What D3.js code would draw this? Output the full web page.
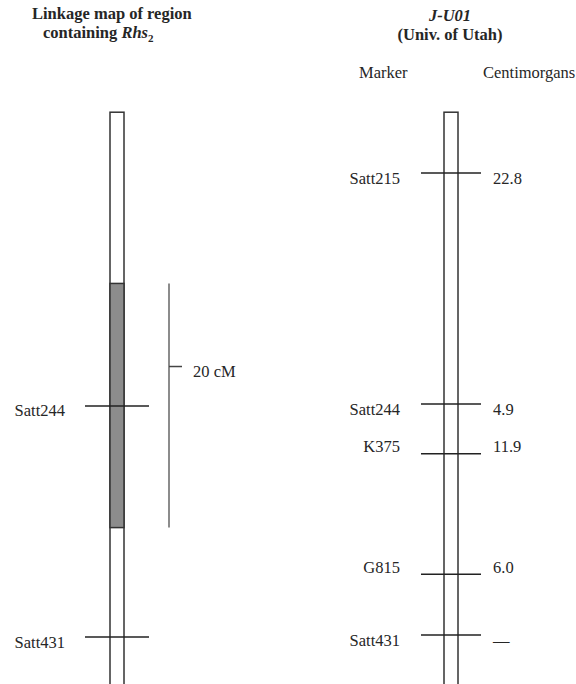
<!DOCTYPE html>
<html><head><meta charset="utf-8">
<script src="https://cdn.jsdelivr.net/npm/d3@7/dist/d3.min.js"></script>
<style>body{margin:0;background:#fff}svg{display:block}text{font-family:"Liberation Serif","DejaVu Serif",serif;fill:#262626}</style>
</head><body><svg id="c" width="576" height="684"></svg>
<script>
// ---- data ----
const rightMarkers = ["Satt215", "Satt244", "K375", "G815", "Satt431"];
const rightIntervals = ["22.8", "4.9", "11.9", "6.0", "—"];   // cM to next marker
const rightPos = [0, 22.8, 27.7, 39.6, 45.6];                  // cumulative cM
const leftMarkers = ["Satt244", "Satt431"];
const leftPos = [23.0, 45.8];
const regionRange = [10.9, 35.0];   // shaded Rhs2 region (cM)
const scaleBarRange = [10.9, 35.0];
const scaleTickPos = 19.1;
const scaleLabel = "20 cM";
const chromRange = [-6.0, 51.5];

// ---- layout ----
const svg = d3.select("#c");
const y = d3.scaleLinear().domain([0, 45.6]).range([173, 635]);
const labelNudgeR = [5, 5, -7, -7, 5];
const labelNudgeL = [4, 5];
const leftX = 117, rightX = 451, halfW = 7, tickHalf = 32;

// titles
svg.append("text").attr("x", 32).attr("y", 19).attr("font-size", 16.5).attr("font-weight", "bold").text("Linkage map of region");
const t2 = svg.append("text").attr("x", 43).attr("y", 38).attr("font-size", 16.5).attr("font-weight", "bold");
t2.append("tspan").text("containing ");
t2.append("tspan").attr("font-style", "italic").text("Rhs");
t2.append("tspan").attr("font-size", 11).attr("dy", 4).text("2");
svg.append("text").attr("x", 450).attr("y", 21).attr("text-anchor", "middle").attr("font-size", 16.5).attr("font-weight", "bold").attr("font-style", "italic").text("J-U01");
svg.append("text").attr("x", 450).attr("y", 40).attr("text-anchor", "middle").attr("font-size", 16.5).attr("font-weight", "bold").text("(Univ. of Utah)");
svg.append("text").attr("x", 359).attr("y", 78).attr("font-size", 16.5).text("Marker");
svg.append("text").attr("x", 483).attr("y", 78).attr("font-size", 16.5).text("Centimorgans");

// chromosomes
function chrom(cx) {
  svg.append("rect").attr("x", cx - halfW).attr("y", y(chromRange[0])).attr("width", 2 * halfW)
    .attr("height", y(chromRange[1]) - y(chromRange[0])).attr("fill", "#fff").attr("stroke", "#333").attr("stroke-width", 1.5);
}
chrom(leftX);
chrom(rightX);
// shaded region
svg.append("rect").attr("x", leftX - halfW).attr("y", y(regionRange[0])).attr("width", 2 * halfW)
  .attr("height", y(regionRange[1]) - y(regionRange[0])).attr("fill", "#8c8c8c").attr("stroke", "#333").attr("stroke-width", 1.5);

// left markers
leftMarkers.forEach((m, i) => {
  const yy = y(leftPos[i]);
  svg.append("line").attr("x1", leftX - tickHalf).attr("x2", leftX + tickHalf).attr("y1", yy).attr("y2", yy).attr("stroke", "#222").attr("stroke-width", 1.5);
  svg.append("text").attr("x", 65).attr("y", yy + labelNudgeL[i]).attr("dy", "0.35em").attr("text-anchor", "end").attr("font-size", 16.5).text(m);
});

// scale bar
const sx = 169;
svg.append("line").attr("x1", sx).attr("x2", sx).attr("y1", y(scaleBarRange[0])).attr("y2", y(scaleBarRange[1])).attr("stroke", "#666").attr("stroke-width", 1.5);
svg.append("line").attr("x1", sx).attr("x2", sx + 13).attr("y1", y(scaleTickPos)).attr("y2", y(scaleTickPos)).attr("stroke", "#444").attr("stroke-width", 1.5);
svg.append("text").attr("x", 193).attr("y", y(scaleTickPos) + 5).attr("dy", "0.35em").attr("font-size", 16.5).text(scaleLabel);

// right markers
rightMarkers.forEach((m, i) => {
  const yy = y(rightPos[i]);
  svg.append("line").attr("x1", rightX - 30).attr("x2", rightX + 30).attr("y1", yy).attr("y2", yy).attr("stroke", "#222").attr("stroke-width", 1.5);
  svg.append("text").attr("x", 400).attr("y", yy + labelNudgeR[i]).attr("dy", "0.35em").attr("text-anchor", "end").attr("font-size", 16.5).text(m);
  svg.append("text").attr("x", 493).attr("y", yy + labelNudgeR[i]).attr("dy", "0.35em").attr("font-size", 16.5).text(rightIntervals[i]);
});
</script></body></html>
